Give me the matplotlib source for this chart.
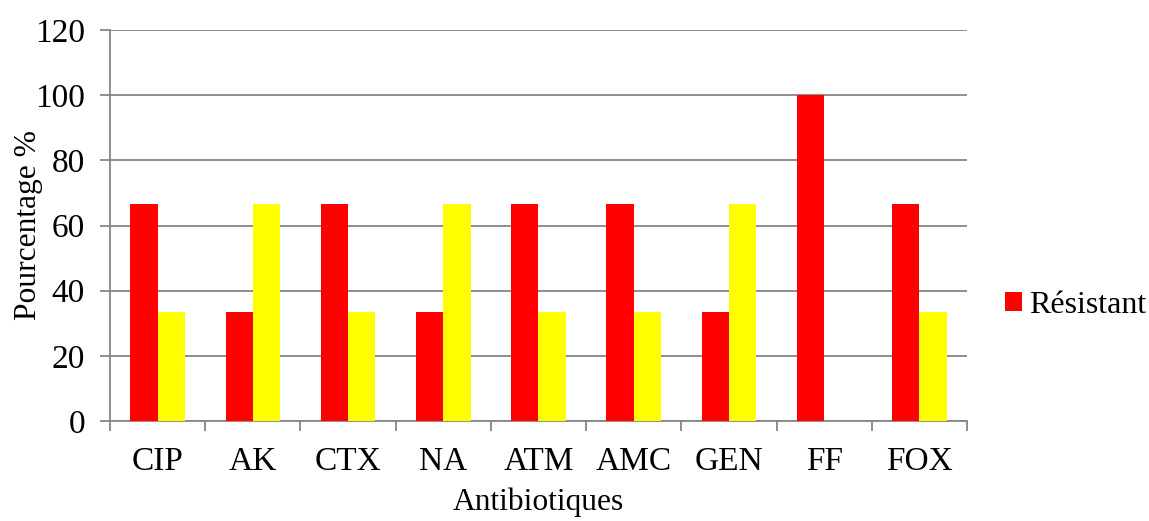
import matplotlib
matplotlib.use("Agg")
import matplotlib.pyplot as plt
import numpy as np
from matplotlib.patches import Patch

# Antibiotic resistance percentages
antibiotiques = ["CIP", "AK", "CTX", "NA", "ATM", "AMC", "GEN", "FF", "FOX"]
resistant = [66.67, 33.33, 66.67, 33.33, 66.67, 66.67, 33.33, 100, 66.67]
sensible = [33.33, 66.67, 33.33, 66.67, 33.33, 33.33, 66.67, 0, 33.33]
yticks = [0, 20, 40, 60, 80, 100, 120]

plt.rcParams["font.family"] = ["Liberation Serif", "DejaVu Serif"]
FS = 22.7
TICK_FS = 24
GRAY = "#868686"

fig = plt.figure(figsize=(11.49, 5.21), dpi=100)
ax = fig.add_axes([110 / 1149, 100 / 521, (967 - 110) / 1149, (421 - 30) / 521])

x = np.arange(len(antibiotiques))
w = 0.286
ax.bar(x - w / 2, resistant, w, color="#ff0000", zorder=3)
ax.bar(x + w / 2, sensible, w, color="#ffff00", zorder=3)

ax.set_xlim(-0.5, len(antibiotiques) - 0.5)
ax.set_ylim(0, 120)
ax.set_yticks(yticks)
ax.set_yticklabels([str(t) for t in yticks])
ax.set_xticks(x)
ax.set_xticklabels(antibiotiques)
ax.set_xticks(np.arange(len(antibiotiques) + 1) - 0.5, minor=True)

ax.yaxis.grid(True, color=GRAY, linewidth=1.3, zorder=0)
ax.set_axisbelow(True)
for s in ("top", "right"):
    ax.spines[s].set_visible(False)
for s in ("left", "bottom"):
    ax.spines[s].set_color(GRAY)
    ax.spines[s].set_linewidth(1.3)

ax.tick_params(axis="x", which="major", length=0, pad=18, labelsize=TICK_FS)
ax.tick_params(axis="x", which="minor", length=7, width=1.3, color=GRAY, direction="out")
ax.tick_params(axis="y", length=7, width=1.3, color=GRAY, pad=11, labelsize=TICK_FS)

ax.set_xlabel("Antibiotiques", fontsize=FS, labelpad=8)
ax.set_ylabel("Pourcentage %", fontsize=FS)
ax.yaxis.set_label_coords(-0.078, 0.5)

handles = [Patch(facecolor="#ff0000", edgecolor="none")]
fig.legend(handles, ["Résistant"], loc="center left",
           bbox_to_anchor=(1005 / 1149, 215.5 / 521), frameon=False,
           fontsize=23, handlelength=0.54, handleheight=0.54,
           handletextpad=0.2, borderpad=0, borderaxespad=0)

fig.savefig("out.png", dpi=100)
